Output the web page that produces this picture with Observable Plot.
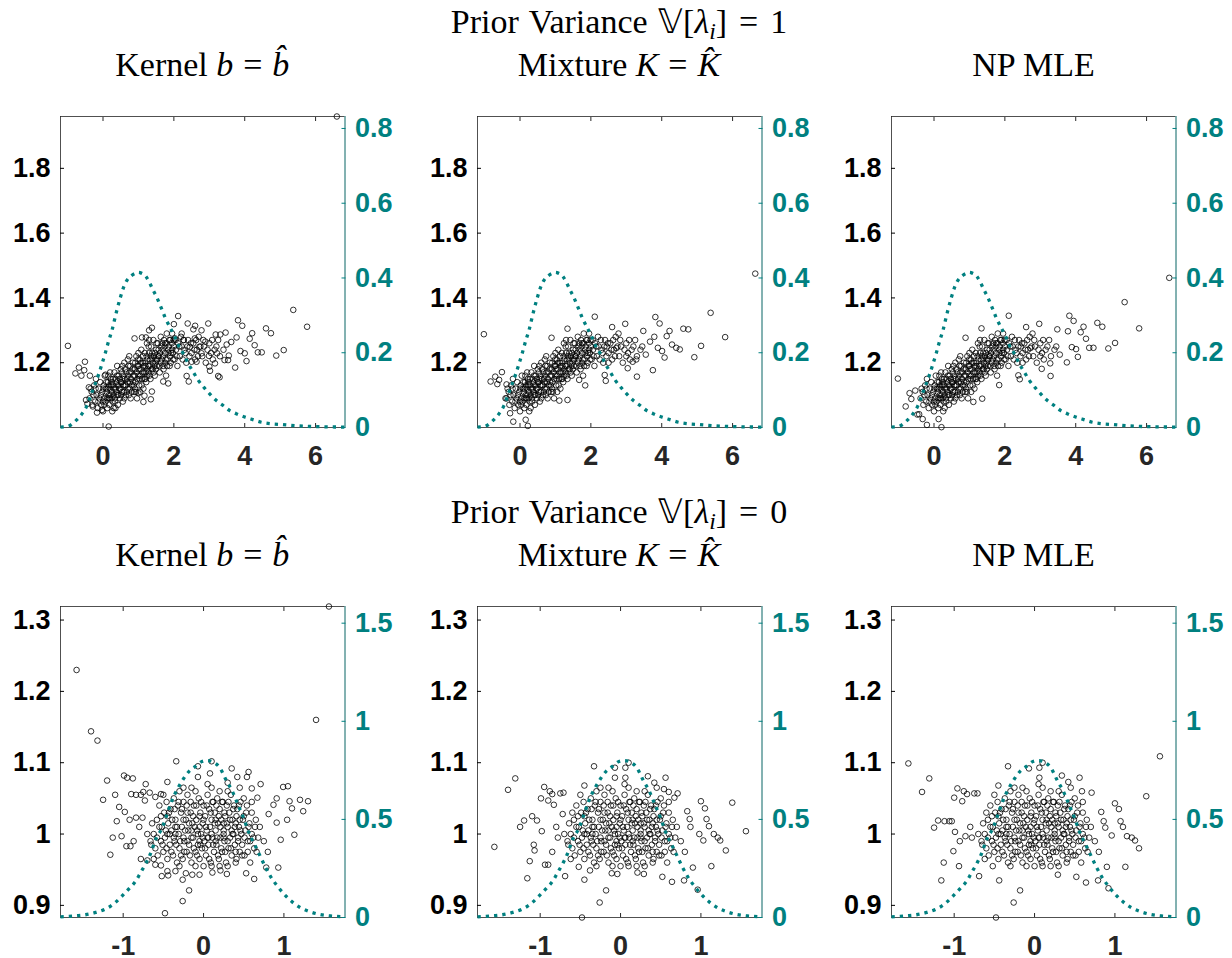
<!DOCTYPE html>
<html><head><meta charset="utf-8">
<script src="https://cdn.jsdelivr.net/npm/d3@7"></script>
<script src="https://cdn.jsdelivr.net/npm/@observablehq/plot@0.6"></script>
<style>
body{margin:0;background:#fff;}
#root{position:relative;width:1232px;height:958px;overflow:hidden;background:#fff;}
.ttl{position:absolute;text-align:center;font-family:"Liberation Serif","Times New Roman",serif;font-size:34px;line-height:34px;color:#000;white-space:nowrap;}
.ttl i{font-style:italic;}
.ttl sub{font-size:0.7em;line-height:0;vertical-align:-0.25em;}
.ttl .eq{margin:0 0.04em;}
.panel{position:absolute;}
</style></head><body><div id="root"></div>
<script>
// ---------- axis settings ----------
const xTicksTop = [0, 2, 4, 6];
const yTicksTop = [1.2, 1.4, 1.6, 1.8];
const dTicksTop = [0, 0.2, 0.4, 0.6, 0.8];
const xDomainTop = [-1.2, 6.83];
const yDomainTop = [1.0, 1.96];
const dDomainTop = [0, 0.832];

const xTicksBot = [-1, 0, 1];
const yTicksBot = [0.9, 1, 1.1, 1.2, 1.3];
const dTicksBot = [0, 0.5, 1, 1.5];
const xDomainBot = [-1.78, 1.76];
const yDomainBot = [0.883, 1.319];
const dDomainBot = [0, 1.585];

const priorVariances = [1, 0];
const methodTitles = ["Kernel <i>b</i> <span class='eq'>=</span> <i>b&#770;</i>", "Mixture <i>K</i> <span class='eq'>=</span> <i>K&#770;</i>", "NP MLE"];

// ---------- prior density (dotted teal, right axis) ----------
const densTop = [[-1.2,0.001],[-1.0,0.003],[-0.78,0.017],[-0.59,0.037],[-0.45,0.059],[-0.33,0.09],[-0.22,0.117],[-0.12,0.143],[-0.03,0.17],[0.07,0.201],[0.16,0.232],[0.25,0.259],[0.33,0.29],[0.40,0.317],[0.49,0.348],[0.58,0.375],[0.67,0.393],[0.80,0.406],[0.93,0.413],[1.0,0.415],[1.08,0.413],[1.21,0.404],[1.31,0.388],[1.40,0.37],[1.52,0.348],[1.64,0.321],[1.75,0.295],[1.89,0.268],[2.01,0.246],[2.13,0.219],[2.27,0.197],[2.41,0.17],[2.55,0.148],[2.69,0.126],[2.86,0.106],[3.01,0.09],[3.20,0.072],[3.39,0.059],[3.58,0.045],[3.76,0.037],[4.0,0.028],[4.23,0.021],[4.47,0.014],[4.75,0.01],[5.03,0.008],[5.4,0.005],[5.78,0.003],[6.15,0.002],[6.83,0.001]];
const densBot = [[-1.78,0.003],[-1.59,0.009],[-1.47,0.014],[-1.34,0.026],[-1.22,0.043],[-1.11,0.072],[-1.03,0.103],[-0.93,0.146],[-0.84,0.188],[-0.78,0.231],[-0.72,0.274],[-0.66,0.325],[-0.60,0.394],[-0.51,0.462],[-0.45,0.531],[-0.39,0.599],[-0.27,0.693],[-0.18,0.745],[-0.1,0.77],[-0.02,0.795],[0.05,0.80],[0.13,0.79],[0.19,0.77],[0.29,0.693],[0.36,0.642],[0.43,0.573],[0.50,0.505],[0.56,0.436],[0.64,0.368],[0.71,0.308],[0.77,0.257],[0.84,0.205],[0.93,0.154],[1.02,0.111],[1.11,0.077],[1.20,0.051],[1.31,0.031],[1.43,0.017],[1.56,0.009],[1.76,0.003]];

// ---------- scatter: top row (prior variance 1) ----------
const topCore = [[-0.38,1.09],[-0.32,1.11],[-0.3,1.07],[-0.25,1.13],[-0.22,1.08],[-0.18,1.10],[-0.15,1.06],[-0.12,1.12],[-0.1,1.09],[-0.08,1.14],[-0.05,1.07],[-0.02,1.11],[0.0,1.05],[0.02,1.13],[0.03,1.09],
[0.05,1.16],[0.07,1.08],[0.1,1.11],[0.12,1.06],[0.14,1.14],[0.16,1.10],[0.18,1.07],[0.2,1.12],[0.22,1.15],[0.24,1.09],[0.26,1.05],[0.28,1.13],[0.3,1.10],[0.32,1.17],[0.34,1.08],[0.36,1.12],[0.38,1.14],[0.4,1.10],[0.42,1.07],[0.44,1.16],[0.46,1.12],[0.48,1.09],[0.5,1.18],
[0.52,1.14],[0.54,1.11],[0.56,1.08],[0.58,1.16],[0.6,1.20],[0.62,1.13],[0.64,1.10],[0.66,1.17],[0.68,1.15],[0.7,1.12],[0.72,1.19],[0.74,1.22],[0.76,1.14],[0.78,1.09],[0.8,1.17],[0.82,1.13],[0.84,1.20],[0.86,1.16],[0.88,1.11],[0.9,1.18],[0.92,1.14],[0.94,1.22],[0.96,1.09],[0.98,1.19],[1.0,1.16],
[1.02,1.13],[1.04,1.21],[1.06,1.18],[1.08,1.24],[1.1,1.15],[1.12,1.20],[1.14,1.12],[1.16,1.17],[1.18,1.23],[1.2,1.19],[1.22,1.14],[1.24,1.26],[1.26,1.21],[1.28,1.17],[1.3,1.23],[1.32,1.19],[1.34,1.15],[1.36,1.25],[1.38,1.21],[1.4,1.18],[1.42,1.27],[1.44,1.22],[1.46,1.16],[1.48,1.20],[1.5,1.24],
[1.52,1.19],[1.55,1.26],[1.58,1.22],[1.6,1.17],[1.63,1.28],[1.66,1.21],[1.68,1.24],[1.7,1.19],[1.72,1.27],[1.75,1.23],[1.78,1.16],[1.8,1.29],[1.82,1.21],[1.85,1.25],[1.88,1.19],[1.9,1.27],[1.92,1.23],[1.95,1.29],[1.98,1.21],[2.0,1.25],
[2.05,1.27],[2.08,1.22],[2.1,1.19],[2.15,1.25],[2.2,1.28],[2.25,1.21],[2.3,1.24],[2.35,1.20],[2.4,1.27],[2.5,1.23],[2.55,1.26],[2.6,1.21],[2.65,1.24],[2.7,1.28],[2.8,1.22],[2.85,1.25],[2.9,1.20],[3.0,1.26],[3.05,1.23],[3.1,1.21],[3.2,1.25],[3.3,1.22],[3.4,1.24],
[0.08,1.12],[0.15,1.09],[0.25,1.11],[0.35,1.15],[0.45,1.13],[0.55,1.15],[0.65,1.13],[0.75,1.17],[0.85,1.14],[0.95,1.17],[1.05,1.16],[1.15,1.19],[1.25,1.18],[1.35,1.22],[1.45,1.19],[1.55,1.22],[1.65,1.25],[1.75,1.20],[1.85,1.23],[1.95,1.24],[0.3,1.06],[0.6,1.09],[0.9,1.12],[1.2,1.15],[0.7,1.21],[1.0,1.23],[1.3,1.27],[0.4,1.19],[0.2,1.17],[-0.2,1.15]];
const topCore2 = [[-0.27,1.10],[-0.21,1.12],[-0.13,1.08],[-0.06,1.10],[0.01,1.12],[0.04,1.07],[0.09,1.14],[0.11,1.09],[0.13,1.12],[0.17,1.13],[0.19,1.09],[0.21,1.10],[0.23,1.13],[0.27,1.08],[0.29,1.15],[0.31,1.12],[0.33,1.09],[0.37,1.11],[0.39,1.16],[0.41,1.13],[0.43,1.10],[0.47,1.15],[0.49,1.12],[0.51,1.10],[0.53,1.17],[0.57,1.13],[0.59,1.11],[0.61,1.15],[0.63,1.18],[0.67,1.11],[0.69,1.14],[0.71,1.16],[0.73,1.10],[0.77,1.19],[0.79,1.15],[0.81,1.11],[0.83,1.18],[0.87,1.13],[0.89,1.16],[0.91,1.20],[0.93,1.11],[0.97,1.15],[0.99,1.21],[1.01,1.18],[1.03,1.15],[1.07,1.20],[1.09,1.13],[1.11,1.17],[1.13,1.22],[1.17,1.15],[1.19,1.20],[1.21,1.17],[1.23,1.22],[1.27,1.19],[1.29,1.25],[1.31,1.16],[1.33,1.21],[1.37,1.18],[1.39,1.23],[1.41,1.20],[1.43,1.17],[1.47,1.23],[1.49,1.18],[1.51,1.26],[1.53,1.21],[1.57,1.24],[1.59,1.19],[1.61,1.23],[1.64,1.20],[1.67,1.26],[1.69,1.22],[1.71,1.18],[1.74,1.25],[1.77,1.21],[1.79,1.26],[1.81,1.19],[1.84,1.24],[1.87,1.27],[1.89,1.22],[1.91,1.20],[1.94,1.26],[1.97,1.23],[1.99,1.27],[2.02,1.21],[2.06,1.24],[2.12,1.26],[2.17,1.22],[2.22,1.25],[2.28,1.27],[2.33,1.23],[2.38,1.25],[2.44,1.22],[2.48,1.26],[2.58,1.24],[2.63,1.27],[2.68,1.22],[2.75,1.25],[2.83,1.27],[2.95,1.24],[3.08,1.27],[3.15,1.24],[3.25,1.27],[0.0,1.08],[0.5,1.14],[1.0,1.19],[1.5,1.21],[0.25,1.14],[0.75,1.12],[1.25,1.16],[1.75,1.26],[0.55,1.19],[1.05,1.11],[-0.35,1.12],[0.15,1.16]];
const topKernel = [[6.60,1.96],[-0.99,1.252],[0.16,1.003],[5.37,1.363],[5.76,1.311],[5.10,1.239],[4.89,1.222],[4.60,1.306],[4.74,1.291],[3.81,1.331],[3.93,1.314],[4.21,1.291],[4.14,1.274],[4.28,1.254],[4.37,1.232],[4.48,1.232],[3.88,1.236],[4.00,1.229],[4.05,1.205],[3.73,1.185],[3.77,1.278],[3.62,1.264],[3.49,1.256],[3.46,1.293],[3.31,1.287],[3.18,1.287],[3.55,1.222],[3.53,1.208],[3.43,1.208],[3.22,1.229],[3.16,1.198],[2.99,1.221],[2.97,1.321],[3.00,1.188],[3.02,1.175],[3.25,1.159],[3.29,1.155],[2.89,1.265],[2.78,1.30],[2.60,1.314],[2.55,1.303],[2.39,1.321],[2.59,1.275],[2.45,1.249],[2.72,1.249],[2.78,1.229],[2.64,1.203],[2.50,1.203],[2.36,1.159],[2.42,1.142],[2.12,1.344],[2.00,1.319],[2.22,1.29],[2.03,1.275],[2.27,1.27],[1.84,1.136],[1.70,1.142],[1.38,1.308],[1.30,1.30],[0.89,1.275],[1.10,1.278],[1.21,1.278],[1.38,1.111],[1.35,1.087],[1.14,1.079],[1.17,1.098],[1.00,1.106],[0.07,1.163],[-0.51,1.203],[-0.68,1.185],[-0.78,1.167],[-0.61,1.16],[-0.53,1.177],[-0.37,1.16],[-0.40,1.124],[-0.48,1.085],[-0.44,1.073],[-0.17,1.046],[-0.29,1.065],[0.35,1.06],[-0.03,1.054]];
const topMixture = [[6.64,1.475],[-1.02,1.288],[5.38,1.354],[5.79,1.279],[5.11,1.252],[4.92,1.217],[4.61,1.305],[4.75,1.303],[3.82,1.341],[3.94,1.321],[4.22,1.298],[4.14,1.282],[4.29,1.256],[4.41,1.246],[4.51,1.241],[3.89,1.246],[4.01,1.236],[4.08,1.216],[3.75,1.177],[3.79,1.28],[3.67,1.265],[3.48,1.298],[3.28,1.21],[3.18,1.203],[3.04,1.183],[3.30,1.157],[2.39,1.162],[2.42,1.144],[2.11,1.342],[1.84,1.13],[1.67,1.147],[1.34,1.305],[0.89,1.277],[1.34,1.085],[1.11,1.083],[-0.83,1.142],[-0.70,1.157],[-0.51,1.171],[-0.59,1.147],[-0.64,1.134],[-0.38,1.133],[-0.19,1.018],[0.16,1.024],[0.22,1.005],[-0.41,1.09],[-0.28,1.044],[2.97,1.32],[2.60,1.31],[2.78,1.29],[3.45,1.25],[3.55,1.225],[2.45,1.25],[2.72,1.245],[2.5,1.2],[3.0,1.22]];
const topNPMLE = [[6.64,1.462],[-1.02,1.151],[5.38,1.387],[5.79,1.306],[5.11,1.261],[4.92,1.244],[4.61,1.323],[4.75,1.311],[3.82,1.345],[3.94,1.329],[4.22,1.311],[4.14,1.294],[4.29,1.274],[4.38,1.246],[4.50,1.246],[3.89,1.248],[4.01,1.242],[4.06,1.218],[3.75,1.201],[3.78,1.297],[3.48,1.303],[3.28,1.198],[3.04,1.181],[3.29,1.159],[2.38,1.161],[2.42,1.149],[2.11,1.345],[1.84,1.131],[1.34,1.306],[0.89,1.277],[1.36,1.089],[1.11,1.079],[-0.80,1.065],[-0.64,1.088],[-0.69,1.106],[-0.53,1.114],[-0.47,1.040],[-0.42,1.041],[-0.20,1.008],[0.21,1.001],[0.13,1.026],[-0.32,1.026],[2.97,1.32],[2.60,1.31],[2.78,1.29],[3.45,1.25],[3.55,1.225],[2.45,1.25],[2.72,1.245],[2.5,1.2],[3.0,1.22]];

// ---------- scatter: bottom row (prior variance 0) ----------
const botCore = [[-0.62,1.00],[-0.6,0.98],[-0.58,1.02],[-0.57,0.97],[-0.55,1.04],[-0.53,0.99],[-0.52,1.01],[-0.5,0.975],[-0.49,1.03],[-0.48,0.995],[-0.46,1.045],[-0.45,0.965],[-0.44,1.015],[-0.42,0.985],[-0.41,1.035],[-0.4,1.005],[-0.38,0.97],[-0.37,1.05],[-0.36,0.99],[-0.35,1.02],[-0.33,0.96],[-0.32,1.04],[-0.31,1.00],[-0.3,0.98],[-0.28,1.03],[-0.27,1.01],[-0.26,0.965],[-0.25,1.045],[-0.24,0.99],[-0.22,1.02],[-0.21,0.975],[-0.2,1.055],[-0.19,1.005],[-0.18,0.985],[-0.16,1.03],[-0.15,0.96],[-0.14,1.015],[-0.13,0.995],[-0.12,1.04],[-0.1,0.975],[-0.09,1.02],[-0.08,1.005],[-0.07,0.985],[-0.06,1.05],[-0.05,0.965],[-0.04,1.03],[-0.03,1.00],[-0.02,0.98],[-0.01,1.015],[0.0,1.04],[0.01,0.99],[0.02,1.025],[0.03,0.97],[0.04,1.005],[0.05,1.055],[0.06,0.985],[0.07,1.035],[0.08,1.01],[0.09,0.96],[0.1,1.02],[0.11,0.995],[0.12,1.045],[0.13,0.975],[0.14,1.03],[0.15,1.005],[0.16,0.985],[0.17,1.05],[0.18,1.015],[0.19,0.965],[0.2,1.035],[0.21,0.995],[0.22,1.02],[0.23,0.975],[0.24,1.045],[0.25,1.005],[0.26,0.99],[0.27,1.025],[0.28,0.96],[0.29,1.04],[0.3,1.01],[0.31,0.98],[0.32,1.03],[0.33,0.995],[0.34,1.055],[0.35,0.97],[0.36,1.02],[0.37,1.00],[0.38,1.04],[0.39,0.985],[0.4,1.015],[0.41,0.965],[0.42,1.035],[0.43,0.995],[0.44,1.01],[0.45,0.975],[0.46,1.045],[0.47,1.0],[0.48,0.985],[0.5,1.025],[0.51,0.97],[0.52,1.005],[0.54,1.04],[0.55,0.99],[0.57,1.015],[0.58,0.96],[0.6,1.03],[0.62,0.995],[0.64,1.01],[0.66,0.975],
[-0.45,1.0],[-0.35,1.01],[-0.25,0.995],[-0.15,1.005],[-0.05,1.01],[0.05,0.995],[0.15,1.02],[0.25,1.015],[0.35,1.005],[0.45,1.02],[-0.2,1.03],[0.0,0.955],[0.2,0.955],[-0.1,1.06],[0.1,1.065],[0.3,1.06],[-0.3,1.06],[0.5,1.05],[-0.5,1.055],[0.6,1.0]];
const botCore2 = [[-0.58,0.995],[-0.55,1.01],[-0.53,1.025],[-0.51,0.985],[-0.47,1.005],[-0.46,0.98],[-0.43,1.03],[-0.42,1.0],[-0.4,0.975],[-0.39,1.02],[-0.37,0.995],[-0.36,1.035],[-0.34,0.985],[-0.33,1.01],[-0.31,1.045],[-0.29,0.99],[-0.28,0.97],[-0.27,1.035],[-0.25,1.02],[-0.24,0.975],[-0.23,1.005],[-0.21,1.04],[-0.2,0.99],[-0.18,1.015],[-0.17,0.97],[-0.16,1.045],[-0.15,0.995],[-0.13,1.025],[-0.12,0.98],[-0.11,1.01],[-0.09,1.04],[-0.08,0.97],[-0.07,1.0],[-0.05,1.025],[-0.04,0.985],[-0.03,1.045],[-0.01,0.995],[0.0,1.02],[0.02,0.98],[0.03,1.01],[0.04,1.04],[0.06,0.995],[0.07,0.965],[0.09,1.03],[0.1,1.0],[0.11,1.045],[0.12,0.985],[0.14,1.015],[0.16,1.04],[0.17,0.995],[0.18,0.97],[0.19,1.025],[0.21,1.01],[0.22,0.98],[0.23,1.045],[0.25,0.995],[0.26,1.03],[0.27,0.975],[0.29,1.015],[0.3,0.99],[0.31,1.045],[0.33,1.02],[0.34,0.98],[0.36,1.0],[0.37,1.035],[0.39,1.01],[0.4,0.975],[0.41,1.025],[0.43,0.99],[0.44,1.04],[0.46,1.005],[0.48,0.97],[0.49,1.02],[0.51,0.995],[0.53,1.03],[0.55,0.975],[0.56,1.01],[0.58,0.99],[0.6,1.045],[0.63,0.98],[0.65,1.02],[0.68,0.995],[-0.64,1.015],[-0.66,0.99],[-0.62,0.965],[-0.1,0.955],[0.1,0.955],[0.3,0.955],[-0.3,0.955],[0.4,0.96],[-0.45,1.025],[0.2,1.06],[-0.15,1.065],[0.05,1.07],[-0.25,1.065],[0.45,1.065],[0.15,0.99],[-0.05,0.99],[0.25,1.0],[-0.35,1.0]];
const botKernel = [[1.56,1.319],[-1.58,1.230],[-1.40,1.144],[-1.32,1.131],[1.40,1.160],[-0.34,1.102],[0.10,1.102],[-0.48,0.889],[-0.26,0.906],[-0.18,0.921],[-1.20,1.075],[-0.99,1.082],[-0.95,1.079],[-0.88,1.078],[-1.10,1.055],[-1.25,1.048],[-1.05,1.038],[-0.98,1.031],[-1.08,1.018],[-1.13,0.995],[-1.16,0.971],[-1.02,0.997],[-0.96,0.983],[-0.91,0.983],[-0.87,0.990],[-0.72,1.070],[-0.75,1.059],[-0.67,1.058],[-0.78,1.055],[-0.73,1.047],[-0.84,1.055],[-0.90,1.056],[-0.92,1.020],[-0.84,1.023],[-0.76,1.023],[-0.78,0.965],[-0.70,0.963],[-0.60,0.957],[-0.53,0.956],[-0.52,0.941],[-0.44,0.942],[-0.45,0.948],[-0.35,0.948],[-0.26,0.936],[-0.22,0.945],[-0.14,0.943],[-0.05,0.943],[0.11,0.946],[0.21,0.949],[0.29,0.944],[0.53,0.945],[0.63,0.937],[0.78,0.953],[0.93,0.953],[0.99,1.066],[1.05,1.067],[1.07,1.046],[1.20,1.048],[1.30,1.046],[1.24,1.032],[1.10,1.036],[1.04,1.020],[1.13,0.999],[0.96,0.992],[0.91,1.016],[0.91,1.050],[0.87,1.041],[0.81,1.028],[0.67,1.051],[0.71,1.070],[0.56,1.087],[0.54,1.080],[0.42,1.080],[0.35,1.092],[0.30,1.072],[0.60,1.064],[-0.07,1.095],[-0.07,1.080],[0.08,1.085],[-0.45,1.073],[-0.53,1.056],[-0.60,1.052],[0.75,0.99],[0.8,0.975],[0.7,1.01],[-0.7,1.0],[-0.65,0.985],[-0.8,1.01]];
const botMixture = [[-1.57,0.982],[-1.40,1.062],[-1.31,1.078],[-1.20,1.019],[-1.25,1.010],[-1.10,1.025],[-1.04,1.019],[-1.13,0.962],[-1.16,0.938],[-1.08,0.985],[-1.07,0.977],[-0.98,1.004],[-0.95,1.066],[-0.99,1.050],[-0.88,1.060],[-0.85,1.056],[-0.90,1.047],[-0.94,0.957],[-0.90,0.957],[-0.85,0.975],[-0.75,1.057],[-0.71,1.058],[-0.83,1.041],[-0.72,1.028],[-0.45,1.068],[-0.33,1.095],[-0.26,0.904],[-0.18,0.921],[-0.48,0.883],[-0.69,0.941],[-0.52,0.954],[-0.45,0.936],[-0.38,0.949],[-0.11,0.945],[-0.04,0.944],[0.10,1.100],[0.06,1.093],[-0.07,1.093],[-0.07,1.079],[0.06,1.079],[0.34,1.081],[0.42,1.072],[0.56,1.079],[0.54,1.063],[0.60,1.059],[0.67,1.051],[0.71,1.057],[0.83,1.032],[1.00,1.046],[1.05,1.036],[1.07,1.021],[1.10,1.011],[1.16,1.000],[1.21,0.995],[1.24,0.991],[1.31,0.977],[1.39,1.044],[1.56,1.004],[1.13,0.955],[0.96,0.922],[0.79,0.935],[0.64,0.933],[0.52,0.940],[0.29,0.944],[0.21,0.946],[0.90,0.953],[0.98,1.000],[1.03,0.991],[0.86,1.021],[0.87,1.010],[0.75,0.99],[0.8,0.975],[0.7,1.01],[-0.7,1.0],[-0.65,0.985],[-0.8,1.01],[-0.6,1.03],[-0.78,0.995]];
const botNPMLE = [[-1.57,1.099],[1.56,1.109],[1.39,1.053],[-1.40,1.059],[-1.31,1.078],[-1.20,1.019],[-1.25,1.009],[-1.12,1.018],[-1.06,1.018],[-1.03,1.018],[-1.13,0.960],[-1.16,0.935],[-0.99,1.003],[-0.96,1.064],[-1.00,1.051],[-0.88,1.060],[-0.84,1.056],[-0.90,1.046],[-0.94,0.955],[-1.01,0.976],[-0.93,0.990],[-0.86,0.997],[-0.75,1.057],[-0.71,1.057],[-0.45,1.068],[-0.33,1.095],[-0.26,0.904],[-0.18,0.921],[-0.48,0.883],[-0.69,0.941],[-0.52,0.955],[-0.44,0.935],[0.10,1.100],[0.06,1.093],[-0.07,1.092],[0.06,1.079],[0.34,1.082],[0.42,1.073],[0.56,1.079],[0.59,1.060],[0.71,1.058],[0.83,1.031],[1.00,1.043],[1.05,1.035],[1.07,1.018],[1.10,1.010],[1.15,0.997],[1.21,0.995],[1.25,0.991],[1.30,0.980],[1.13,0.954],[0.92,0.924],[0.79,0.935],[0.64,0.932],[0.52,0.940],[0.29,0.943],[0.90,0.954],[0.96,0.998],[0.86,1.018],[0.88,1.009],[0.75,0.99],[0.8,0.975],[0.7,1.01],[-0.7,1.0],[-0.65,0.985],[-0.8,1.01],[-0.6,1.03],[-0.78,0.995]];

// ---------- layout ----------
const TEAL = "#008080";
const boxLefts = [60, 476.7, 891.3];
const boxTops = [116, 605.7];
const boxW = 284.5, boxH = 311;
const topBase = topCore.concat(topCore2), botBase = botCore.concat(botCore2);
const rowsCfg = [
  {xD: xDomainTop, yD: yDomainTop, dD: dDomainTop, xT: xTicksTop, yT: yTicksTop, dT: dTicksTop, dens: densTop, pts: [topBase.concat(topKernel), topBase.concat(topMixture), topBase.concat(topNPMLE)]},
  {xD: xDomainBot, yD: yDomainBot, dD: dDomainBot, xT: xTicksBot, yT: yTicksBot, dT: dTicksBot, dens: densBot, pts: [botBase.concat(botKernel), botBase.concat(botMixture), botBase.concat(botNPMLE)]}
];

const root = document.getElementById("root");
const mL = 60, mR = 90, mT = 12, mB = 44;
const W = boxW + mL + mR, H = boxH + mT + mB;
const fontStyle = {fontFamily: "'Liberation Sans', Arial, sans-serif", fontSize: "27px", fontWeight: "bold", background: "transparent", overflow: "visible"};

rowsCfg.forEach((cfg, r) => {
  const sup = document.createElement("div");
  sup.className = "ttl";
  sup.style.left = (boxLefts[1] - 100) + "px"; sup.style.width = (boxW + 200) + "px";
  sup.style.top = (r === 0 ? 5 : 495) + "px";
  sup.style.wordSpacing = "0.06em";
  sup.innerHTML = `Prior Variance 𝕍[<i>λ</i><sub><i>i</i></sub>] <span class='eq'>=</span> ${priorVariances[r]}`;
  root.appendChild(sup);
  for (let c = 0; c < 3; c++) {
    const t = document.createElement("div");
    t.className = "ttl";
    t.style.left = (boxLefts[c] - 60) + "px"; t.style.width = (boxW + 120) + "px";
    t.style.top = (r === 0 ? 48 : 538) + "px";
    t.innerHTML = methodTitles[c];
    root.appendChild(t);

    const common = {width: W, height: H, marginLeft: mL, marginRight: mR, marginTop: mT, marginBottom: mB, style: fontStyle};
    const main = Plot.plot({...common,
      x: {domain: cfg.xD}, y: {domain: cfg.yD},
      marks: [
        Plot.frame({stroke: "#262626", strokeWidth: 0.8}),
        Plot.axisX({anchor: "bottom", ticks: cfg.xT, tickSize: -4, tickPadding: 22, tickFormat: d => String(d), label: null, color: "#262626"}),
        Plot.axisX({anchor: "top", ticks: cfg.xT, tickSize: -4, tickFormat: () => "", label: null, color: "#262626"}),
        Plot.axisY({anchor: "left", ticks: cfg.yT, tickSize: -4, tickPadding: 14, tickFormat: d => String(d), label: null, color: "#000"}),
        Plot.dot(cfg.pts[c], {x: d => d[0], y: d => d[1], r: 2.8, stroke: "#000", strokeWidth: 0.8})
      ]});
    const over = Plot.plot({...common,
      x: {domain: cfg.xD, axis: null}, y: {domain: cfg.dD},
      marks: [
        Plot.ruleX([cfg.xD[1]], {stroke: "#6fb7b7", strokeWidth: 1.3}),
        Plot.axisY({anchor: "right", ticks: cfg.dT, tickSize: -4, tickPadding: 14, tickFormat: d => String(d), label: null, color: TEAL}),
        Plot.line(cfg.dens, {x: d => d[0], y: d => d[1], stroke: TEAL, strokeWidth: 3.3, strokeDasharray: "3.3,5", strokeLinecap: "butt", curve: "monotone-x"})
      ]});
    [main, over].forEach(svg => {
      svg.classList.add("panel");
      svg.style.position = "absolute";
      svg.style.left = (boxLefts[c] - mL) + "px";
      svg.style.top = (boxTops[r] - mT) + "px";
      svg.style.maxWidth = "none";
      root.appendChild(svg);
    });
  }
});
</script>
</body></html>
